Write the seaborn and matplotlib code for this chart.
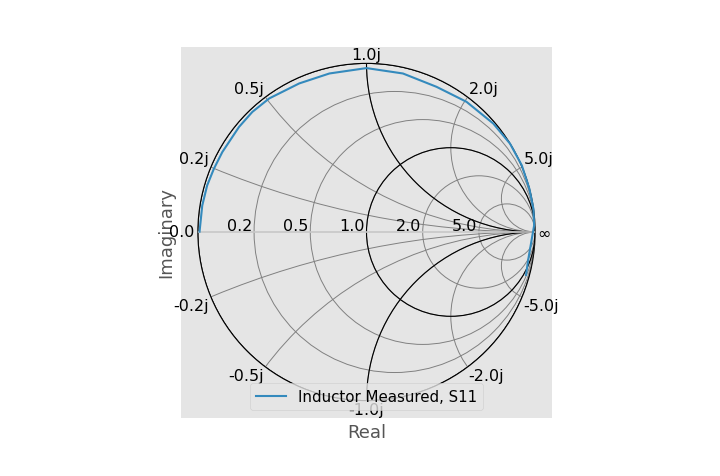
import numpy as np
import pandas as pd
import matplotlib
matplotlib.use("Agg")
import matplotlib.pyplot as plt
from matplotlib.patches import Circle
import seaborn as sns

# measured S11 trace of the inductor (real / imaginary part of reflection coeff.)
s11_real = [-0.990, -0.974, -0.945, -0.905, -0.855, -0.756, -0.677, -0.577, -0.399,
            -0.220, 0.000, 0.216, 0.415, 0.593, 0.752, 0.851, 0.921, 0.966,
            0.990, 0.994, 0.980, 0.970, 0.958, 0.946]
s11_imag = [0.002, 0.157, 0.276, 0.375, 0.474, 0.623, 0.712, 0.792, 0.881,
            0.940, 0.972, 0.940, 0.861, 0.772, 0.643, 0.524, 0.395, 0.256,
            0.137, 0.038, -0.042, -0.100, -0.170, -0.255]
trace_label = "Inductor Measured, S11"

# smith chart grid values
r_light = [0.2, 0.5, 1.0, 2.0, 5.0]
x_light = [0.2, 0.5, 1.0, 2.0, 5.0, -0.2, -0.5, -1.0, -2.0, -5.0]
r_heavy = [0, 1]
x_heavy = [1, -1]
r_labels = ["0.2", "0.5", "1.0", "2.0", "5.0"]
x_labels = ["0.2j", "0.5j", "1.0j", "2.0j", "5.0j",
            "-0.2j", "-0.5j", "-1.0j", "-2.0j", "-5.0j"]

plt.style.use("ggplot")
fig = plt.figure(figsize=(7.2, 4.77), dpi=100)
ax = fig.add_axes([181 / 720, 58 / 477, 371 / 720, 372 / 477])

clipc = Circle((0, 0), 1, ec="k", fc="none", lw=0.8)
ax.add_patch(clipc)

contour = []
for r in r_light:
    contour.append(Circle((r / (1. + r), 0), 1. / (1 + r), ec="grey", fc="none", lw=0.7))
for x in x_light:
    contour.append(Circle((1, 1. / x), 1. / x, ec="grey", fc="none", lw=0.7))
for r in r_heavy:
    contour.append(Circle((r / (1. + r), 0), 1. / (1 + r), ec="black", fc="none", lw=0.8))
for x in x_heavy:
    contour.append(Circle((1, 1. / x), 1. / x, ec="black", fc="none", lw=0.8))
for c in contour:
    ax.add_patch(c)
    c.set_clip_path(clipc)

hl = ax.axhline(0, color="0.78", lw=1.2)
hl.set_clip_path(clipc)

fs = 11.5
# labels for real part
for value, txt in zip(r_light, r_labels):
    rho = (value - 1) / (value + 1) - 0.01
    ax.annotate(txt, xy=(rho, 0.01), ha="right", va="baseline", fontsize=fs)

# labels for imaginary part
for value, txt in zip(x_light, x_labels):
    S = (1j * value - 1) / (1j * value + 1) * 1.01
    if value in (1.0, -1.0):
        ha = "center"
    elif S.real < 0:
        ha = "right"
    else:
        ha = "left"
    va = "top" if S.imag < 0 else "bottom"
    ax.annotate(txt, xy=(S.real, S.imag), ha=ha, va=va, fontsize=fs)

ax.annotate("0.0", xy=(-1.02, 0), ha="right", va="center", fontsize=fs)
ax.annotate(r"$\infty$", xy=(1.01, 0), ha="left", va="center", fontsize=fs)

df = pd.DataFrame({"Real": s11_real, "Imaginary": s11_imag})
sns.lineplot(data=df, x="Real", y="Imaginary", sort=False, estimator=None,
             color="#348ABD", lw=1.5, label=trace_label, ax=ax)

ax.set_xlim(-1.1, 1.1)
ax.set_ylim(-1.1, 1.1)
ax.set_aspect("equal")
ax.grid(False)
ax.set_xticks([])
ax.set_yticks([])
for spine in ax.spines.values():
    spine.set_color("none")
ax.set_xlabel("Real", fontsize=13)
ax.set_ylabel("Imaginary", fontsize=13)
ax.legend(loc="lower center", fontsize=10.8)

fig.savefig("out.png", dpi=100)
